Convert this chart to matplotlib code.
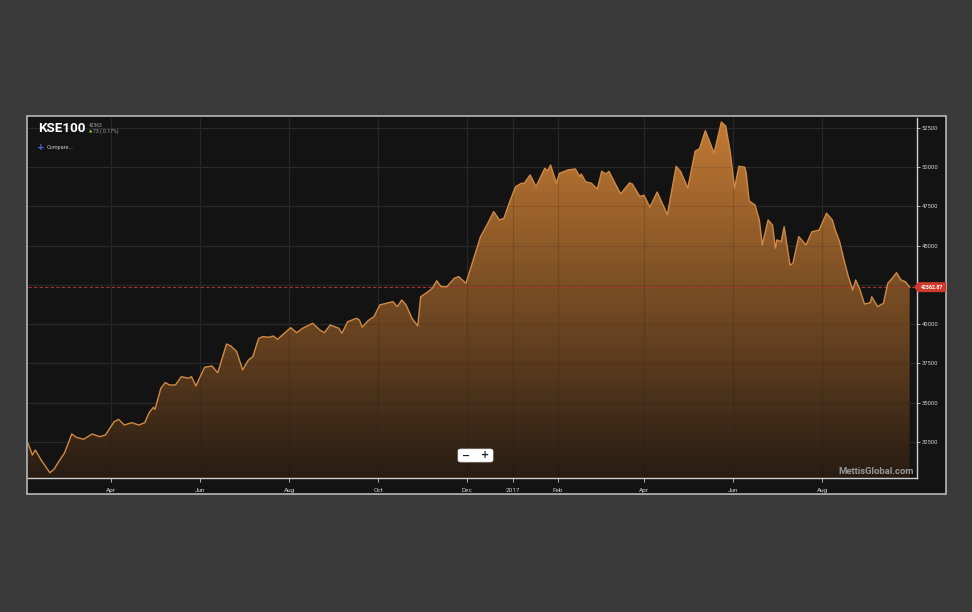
import matplotlib
matplotlib.use('Agg')
import matplotlib.pyplot as plt
import matplotlib.dates as mdates
import numpy as np
import pandas as pd
from matplotlib.patches import Rectangle, FancyBboxPatch, Polygon
from matplotlib.transforms import Bbox

# ---------------- data (KSE100 closing level) ----------------
dates = [
    '2016-02-04', '2016-02-07', '2016-02-09', '2016-02-13', '2016-02-19', '2016-02-22',
    '2016-02-25', '2016-02-29', '2016-03-05', '2016-03-08', '2016-03-13', '2016-03-19',
    '2016-03-24', '2016-03-28', '2016-04-03', '2016-04-06', '2016-04-10', '2016-04-15',
    '2016-04-20', '2016-04-24', '2016-04-27', '2016-04-30', '2016-05-01', '2016-05-05',
    '2016-05-08', '2016-05-11', '2016-05-15', '2016-05-19', '2016-05-24', '2016-05-26',
    '2016-05-29', '2016-06-04', '2016-06-09', '2016-06-13', '2016-06-19', '2016-06-22',
    '2016-06-26', '2016-06-30', '2016-07-04', '2016-07-07', '2016-07-11', '2016-07-14',
    '2016-07-18', '2016-07-21', '2016-07-24', '2016-07-28', '2016-08-02', '2016-08-06',
    '2016-08-10', '2016-08-17', '2016-08-22', '2016-08-25', '2016-08-29', '2016-09-04',
    '2016-09-06', '2016-09-10', '2016-09-16', '2016-09-18', '2016-09-20', '2016-09-22',
    '2016-09-24', '2016-09-28', '2016-10-02', '2016-10-11', '2016-10-14', '2016-10-17',
    '2016-10-20', '2016-10-24', '2016-10-28', '2016-10-30', '2016-11-04', '2016-11-07',
    '2016-11-10', '2016-11-13', '2016-11-17', '2016-11-22', '2016-11-25', '2016-11-30',
    '2016-12-05', '2016-12-10', '2016-12-15', '2016-12-19', '2016-12-23', '2016-12-26',
    '2016-12-30', '2017-01-03', '2017-01-07', '2017-01-09', '2017-01-13', '2017-01-17',
    '2017-01-23', '2017-01-25', '2017-01-27', '2017-01-31', '2017-02-02', '2017-02-08',
    '2017-02-13', '2017-02-16', '2017-02-17', '2017-02-20', '2017-02-24', '2017-02-28',
    '2017-03-03', '2017-03-06', '2017-03-08', '2017-03-12', '2017-03-16', '2017-03-22',
    '2017-03-24', '2017-03-29', '2017-04-01', '2017-04-05', '2017-04-10', '2017-04-17',
    '2017-04-23', '2017-04-26', '2017-05-01', '2017-05-06', '2017-05-09', '2017-05-13',
    '2017-05-19', '2017-05-24', '2017-05-27', '2017-05-30', '2017-06-02', '2017-06-05',
    '2017-06-09', '2017-06-10', '2017-06-12', '2017-06-16', '2017-06-19', '2017-06-21',
    '2017-06-25', '2017-06-28', '2017-06-30', '2017-07-01', '2017-07-04', '2017-07-06',
    '2017-07-10', '2017-07-12', '2017-07-16', '2017-07-21', '2017-07-25', '2017-07-30',
    '2017-08-04', '2017-08-08', '2017-08-10', '2017-08-13', '2017-08-16', '2017-08-19',
    '2017-08-22', '2017-08-24', '2017-08-27', '2017-08-30', '2017-09-03', '2017-09-04',
    '2017-09-08', '2017-09-10', '2017-09-12', '2017-09-15', '2017-09-18', '2017-09-21',
    '2017-09-24', '2017-09-27', '2017-09-30',
]
values = [
    32420, 31670, 31990, 31350, 30540, 30780,
    31240, 31800, 33010, 32800, 32670, 33010,
    32840, 32940, 33790, 33940, 33580, 33730,
    33580, 33730, 34370, 34710, 34580, 35920,
    36280, 36130, 36130, 36660, 36560, 36660,
    36070, 37260, 37340, 36910, 38740, 38610,
    38250, 37090, 37720, 37930, 39100, 39210,
    39170, 39250, 39040, 39380, 39780, 39460,
    39740, 40060, 39630, 39460, 39950, 39740,
    39420, 40160, 40380, 40270, 39810, 40020,
    40230, 40480, 41230, 41440, 41120, 41540,
    41230, 40380, 39890, 41750, 42070, 42290,
    42770, 42390, 42390, 42930, 43030, 42610,
    44090, 45580, 46430, 47170, 46640, 46750,
    47810, 48760, 48980, 48980, 49510, 48760,
    49930, 49780, 50140, 48980, 49610, 49830,
    49890, 49400, 49570, 49080, 48980, 48600,
    49740, 49570, 49740, 49000, 48300, 49000,
    48930, 48150, 48210, 47450, 48420, 46980,
    50060, 49740, 48680, 51020, 51180, 52330,
    50910, 52880, 52610, 51020, 48680, 50060,
    50000, 49630, 47850, 47600, 46640, 45050,
    46640, 46320, 44840, 45370, 45260, 46210,
    43770, 43880, 45580, 45050, 45890, 46000,
    47070, 46640, 46000, 45260, 44090, 43030,
    42180, 42820, 42180, 41290, 41370, 41750,
    41120, 41230, 41330, 42610, 42930, 43280,
    42820, 42710, 42363,
]
last_value = 42362.87
header_value = '42363'
header_change = '73 ( 0.17%)'
y_ticks = [32500, 35000, 37500, 40000, 42500, 45000, 47500, 50000, 52500]
y_tick_labels = ['32500', '35000', '37500', '40000', '', '45000', '47500', '50000', '52500']
x_tick_dates = ['2016-04-01', '2016-06-01', '2016-08-01', '2016-10-01', '2016-12-01',
                '2017-01-01', '2017-02-01', '2017-04-01', '2017-06-01', '2017-08-01']
x_tick_labels = ['Apr', 'Jun', 'Aug', 'Oct', 'Dec', '2017', 'Feb', 'Apr', 'Jun', 'Aug']
first_month_date = '2016-02-01'
first_month_label = 'Feb'

# ---------------- figure ----------------
W, H = 972, 612
fig = plt.figure(figsize=(W / 100, H / 100), dpi=100)
fig.patch.set_facecolor('#3a3a3a')
FAM = ['Roboto', 'DejaVu Sans']


def fx(px):
    return px / W


def fy(py):
    return 1 - py / H


panel = Rectangle((fx(27), fy(494)), fx(946) - fx(27), fy(116) - fy(494),
                  transform=fig.transFigure, facecolor='#131313',
                  edgecolor='#c4c4c4', lw=1.1, zorder=0)
fig.add_artist(panel)

ax = fig.add_axes([fx(28), fy(478), fx(917) - fx(28), fy(118) - fy(478)])
ax.set_facecolor('#131313')
ax.set_zorder(1)

x = mdates.date2num(pd.to_datetime(dates))
xl0 = mdates.date2num(pd.Timestamp('2016-02-04'))
xl1 = mdates.date2num(pd.Timestamp('2017-10-05'))
ylo, yhi = 30205, 53137
ax.set_xlim(xl0, xl1)
ax.set_ylim(ylo, yhi)

tick_x = mdates.date2num(pd.to_datetime(x_tick_dates))

# grid (behind)
for yv in y_ticks:
    ax.axhline(yv, color='#2a2a2a', lw=0.9, zorder=0.5)
for xv in tick_x:
    ax.axvline(xv, color='#2a2a2a', lw=0.9, zorder=0.5)

# gradient filled area
verts = [(x[0], ylo)] + list(zip(x, values)) + [(x[-1], ylo)]
area = Polygon(verts, closed=True, transform=ax.transData,
               facecolor='none', edgecolor='none')
ax.add_patch(area)
g = np.linspace(0, 1, 512)[:, None, None]
top = np.array([196, 123, 52]) / 255.0
bot = np.array([40, 28, 19]) / 255.0
img = top[None, None, :] * (1 - g) + bot[None, None, :] * g
img = np.repeat(img, 2, axis=1)
im = ax.imshow(img, extent=[xl0, xl1, ylo, yhi], aspect='auto',
               origin='upper', zorder=1, interpolation='bilinear')
im.set_clip_path(area)

# subtle grid over fill
for xv in tick_x:
    ax.axvline(xv, color='#1a1a1a', lw=0.8, alpha=0.18, zorder=1.5)
for yv in y_ticks:
    ax.axhline(yv, color='#1a1a1a', lw=0.8, alpha=0.12, zorder=1.5)

ax.plot(x, values, color='#d08a46', lw=1.0, zorder=3, solid_joinstyle='round')

# last-value dashed line
ax.axhline(last_value, color='#a83232', lw=0.8, ls=(0, (3, 2)), zorder=2.5)

# spines / ticks
for s in ['left', 'top']:
    ax.spines[s].set_visible(False)
ax.spines['right'].set_color('#cfcfcf')
ax.spines['bottom'].set_color('#cfcfcf')
ax.spines['right'].set_linewidth(1.0)
ax.spines['bottom'].set_linewidth(1.0)

ax.yaxis.tick_right()
ax.set_yticks(y_ticks)
ax.set_yticklabels(y_tick_labels, fontfamily=FAM)
ax.tick_params(axis='y', length=2, width=0.6, color='#cfcfcf', labelsize=4.2,
               labelcolor='#d0d0d0', pad=1.5)
ax.set_xticks(tick_x)
ax.set_xticklabels(x_tick_labels, fontfamily=FAM)
ax.tick_params(axis='x', length=3, width=0.6, color='#cfcfcf', labelsize=4.6,
               labelcolor='#d0d0d0', pad=4)

# clipped first month label ("Feb" cut by the plot edge)
ft = ax.text(mdates.date2num(pd.Timestamp(first_month_date)), -0.0285, first_month_label,
             transform=ax.get_xaxis_transform(), ha='center', va='center',
             fontsize=4.6, color='#d0d0d0', family=FAM, clip_on=True)
ft.set_clip_box(Bbox([[28.5, 0], [917, H - 478]]))

# last value label on right axis
tr = ax.get_yaxis_transform()
hh = 5 * (yhi - ylo) / 360.0
aw = 889.0
lab = Polygon([(-3 / aw + 1, last_value), (1 + 1 / aw, last_value + hh),
               (1 + 29 / aw, last_value + hh), (1 + 29 / aw, last_value - hh),
               (1 + 1 / aw, last_value - hh)], closed=True, transform=tr,
              facecolor='#cf3a2c', edgecolor='none', clip_on=False, zorder=6)
ax.add_patch(lab)
ax.text(1 + 15 / aw, last_value, f'{last_value:.2f}', transform=tr, ha='center',
        va='center', fontsize=3.7, color='white', fontweight='bold', family=FAM,
        clip_on=False, zorder=7)

# header
fig.text(fx(38), fy(129), 'KSE100', ha='left', va='center', fontsize=9.6,
         fontweight='bold', color='white', family=FAM, zorder=5)
fig.text(fx(89), fy(125.5), header_value, ha='left', va='center', fontsize=3.5,
         color='#a8a8a8', family=FAM, zorder=5)
fig.text(fx(89), fy(131.5), '▲', ha='left', va='center', fontsize=3.2,
         color='#a5cf3a', family=['DejaVu Sans'], zorder=5)
fig.text(fx(93), fy(131.5), header_change, ha='left', va='center', fontsize=3.7,
         color='#a8a8a8', family=FAM, zorder=5)
fig.text(fx(41), fy(147.5), '+', ha='center', va='center', fontsize=6.5,
         fontweight='bold', color='#4a70e0', family=['DejaVu Sans'], zorder=5)
fig.text(fx(47), fy(148), 'Compare...', ha='left', va='center', fontsize=4,
         color='#c8c8c8', family=FAM, zorder=5)

# zoom buttons
btn = FancyBboxPatch((fx(458), fy(462)), fx(493) - fx(458), fy(449) - fy(462),
                     boxstyle='round,pad=0,rounding_size=0.003',
                     transform=fig.transFigure, facecolor='white',
                     edgecolor='#dddddd', lw=0.5, zorder=8)
fig.add_artist(btn)
fig.text(fx(466), fy(455.5), '−', ha='center', va='center', fontsize=7,
         fontweight='bold', color='#222222', family=['DejaVu Sans'], zorder=9)
fig.text(fx(485), fy(455.5), '+', ha='center', va='center', fontsize=7,
         fontweight='bold', color='#222222', family=['DejaVu Sans'], zorder=9)

# watermark
fig.text(fx(914), fy(471.5), 'MettisGlobal.com', ha='right', va='center',
         fontsize=6.8, fontweight='bold', color='#a4a4a4', alpha=0.9,
         family=FAM, zorder=9)

fig.savefig('out.png', dpi=100, facecolor=fig.get_facecolor())
